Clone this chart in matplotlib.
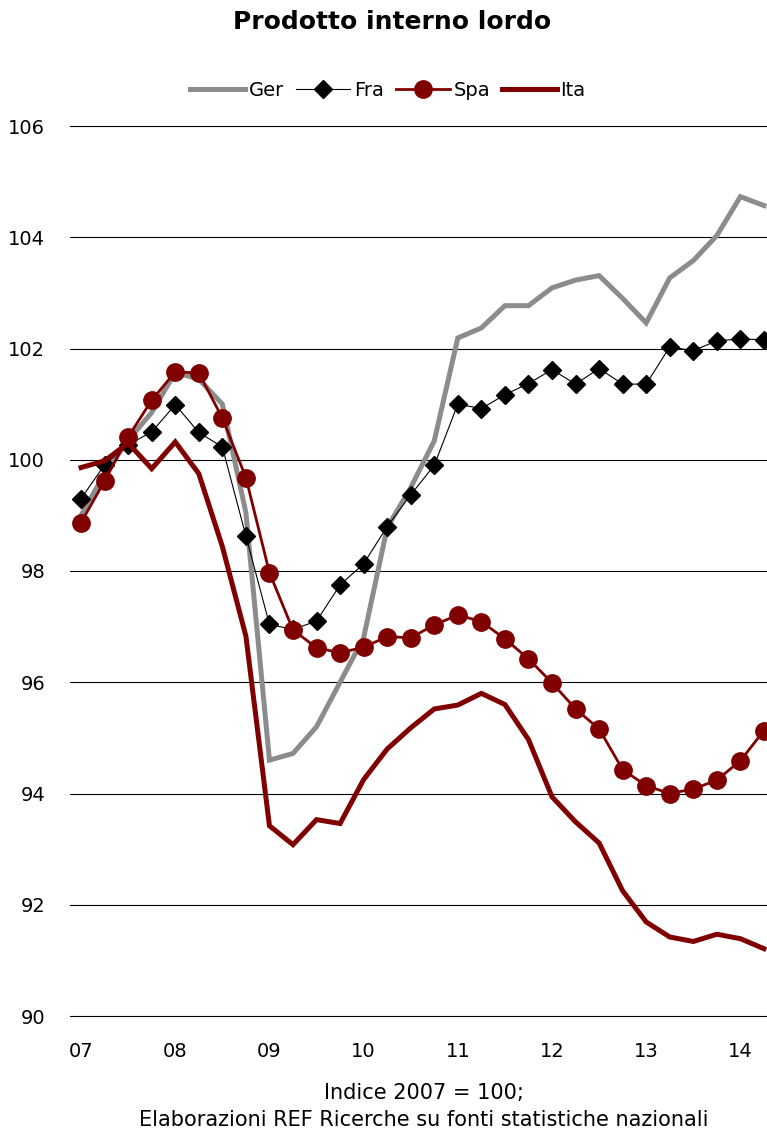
import numpy as np
import matplotlib.pyplot as plt

# quarterly index, 2007 = 100 (2007Q1 .. 2014Q2)
year_labels = ['07', '08', '09', '10', '11', '12', '13', '14']

ger = [99.0, 99.75, 100.35, 100.85, 101.57, 101.45, 101.0, 99.05,
       94.6, 94.72, 95.2, 96.0, 96.8, 98.78, 99.5, 100.34,
       102.19, 102.37, 102.77, 102.77, 103.09, 103.23, 103.31, 102.9,
       102.46, 103.27, 103.58, 104.03, 104.73, 104.57]
fra = [99.3, 99.91, 100.27, 100.5, 100.99, 100.49, 100.23, 98.63,
       97.04, 96.95, 97.1, 97.75, 98.13, 98.8, 99.37, 99.9,
       101.0, 100.92, 101.17, 101.37, 101.62, 101.36, 101.64, 101.36,
       101.36, 102.03, 101.96, 102.14, 102.17, 102.16]
spa = [98.87, 99.62, 100.41, 101.07, 101.58, 101.56, 100.75, 99.68,
       97.97, 96.94, 96.62, 96.53, 96.63, 96.82, 96.8, 97.03,
       97.21, 97.09, 96.78, 96.42, 95.99, 95.52, 95.16, 94.43,
       94.14, 94.0, 94.08, 94.24, 94.59, 95.13]
ita = [99.86, 99.98, 100.3, 99.84, 100.32, 99.75, 98.44, 96.83,
       93.42, 93.08, 93.53, 93.46, 94.25, 94.8, 95.18, 95.52,
       95.59, 95.8, 95.6, 94.97, 93.94, 93.49, 93.11, 92.25,
       91.69, 91.42, 91.34, 91.47, 91.39, 91.21]

x = np.arange(len(ger))
gray = '#8c8c8c'
red = '#800000'

plt.rcParams['font.family'] = ['DejaVu Sans']
fig = plt.figure(figsize=(7.67, 11.33), dpi=100)
ax = fig.add_axes([70 / 767, 117 / 1133, 697 / 767, 890 / 1133])

ax.plot(x, ger, color=gray, lw=3.6, label='Ger', solid_joinstyle='miter', zorder=3)
ax.plot(x, fra, color='black', lw=0.8, marker='D', markersize=9, label='Fra', zorder=4)
ax.plot(x, spa, color=red, lw=2.0, marker='o', markersize=12.5, label='Spa', zorder=5)
ax.plot(x, ita, color=red, lw=3.6, label='Ita', solid_joinstyle='miter', zorder=6)

ax.set_ylim(90, 106)
ax.set_yticks(np.arange(90, 107, 2))
ax.set_xlim(-0.47, 29.13)
ax.set_xticks(np.arange(0, 29, 4))
ax.set_xticklabels(year_labels)
ax.grid(axis='y', color='black', lw=0.8)
for gl in ax.get_ygridlines():
    gl.set_clip_on(False)
ax.set_axisbelow(True)
for s in ax.spines.values():
    s.set_visible(False)
ax.tick_params(length=0, labelsize=14)
ax.tick_params(axis='y', pad=18)
ax.tick_params(axis='x', pad=19)

fig.text(0.511, 0.981, 'Prodotto interno lordo', ha='center', va='center',
         fontsize=18, fontweight='bold')
fig.legend(loc='center', bbox_to_anchor=(0.506, 0.920), ncol=4, frameon=False,
           fontsize=14, handlelength=2.8, handletextpad=0.2, columnspacing=0.6)
fig.text(0.553, 0.0235, 'Indice 2007 = 100;\nElaborazioni REF Ricerche su fonti statistiche nazionali',
         ha='center', va='center', fontsize=15, linespacing=1.45)

fig.savefig('out.png', dpi=100)
